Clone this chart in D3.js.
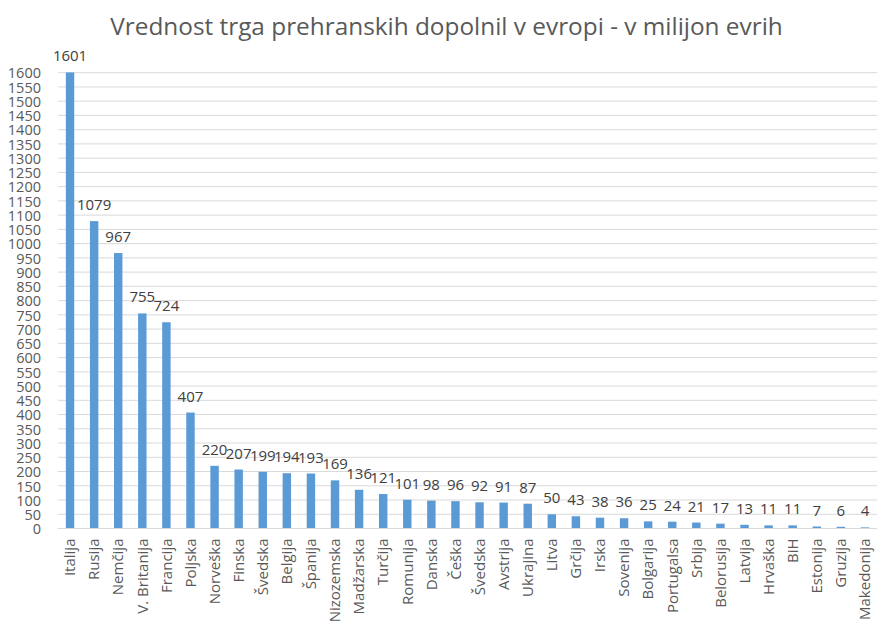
<!DOCTYPE html>
<html>
<head>
<meta charset="utf-8">
<script src="https://cdn.jsdelivr.net/npm/d3@7"></script>
<style>
  body { margin: 0; background: #fff; }
  svg { display: block; }
  text { font-family: "Open Sans", "Liberation Sans", sans-serif; }
</style>
</head>
<body>
<svg id="chart" width="893" height="635"></svg>
<script>
const title = "Vrednost trga prehranskih dopolnil v evropi - v milijon evrih";
const categories = ["Italija","Rusija","Nemčija","V. Britanija","Francija","Poljska","Norveška","Finska","Švedska","Belgija","Španija","Nizozemska","Madžarska","Turčija","Romunija","Danska","Češka","Švedska ","Avstrija","Ukrajina","Litva","Grčija","Irska","Sovenija","Bolgarija","Portugalsa","Srbija","Belorusija","Latvija","Hrvaška","BiH","Estonija","Gruzija","Makedonija"];
const values = [1601,1079,967,755,724,407,220,207,199,194,193,169,136,121,101,98,96,92,91,87,50,43,38,36,25,24,21,17,13,11,11,7,6,4];
const yTicks = d3.range(0, 1601, 50);

const svg = d3.select("#chart");
const plotLeft = 58, plotRight = 877, plotTop = 72.7, plotBottom = 528.5;

const x = d3.scaleBand().domain(d3.range(categories.length)).range([plotLeft, plotRight]).paddingInner(0.65).paddingOuter(0.325);
const y = d3.scaleLinear().domain([0, 1600]).range([plotBottom, plotTop]);

// gridlines
svg.append("g").selectAll("line").data(yTicks).join("line")
  .attr("x1", plotLeft).attr("x2", plotRight)
  .attr("y1", d => y(d)).attr("y2", d => y(d))
  .attr("stroke", "#d9d9d9").attr("stroke-width", 1);

// y axis labels
const yAxis = d3.axisLeft(y).tickValues(yTicks).tickFormat(d3.format("d")).tickSize(0).tickPadding(0);
const yg = svg.append("g").attr("transform", `translate(${plotLeft - 17},0)`).call(yAxis);
yg.select(".domain").remove();
yg.selectAll("text").attr("font-size", 14.5).attr("fill", "#595959")
  .attr("font-family", '"Open Sans", sans-serif').attr("dy", "0.36em");

// bars
svg.append("g").selectAll("rect").data(values).join("rect")
  .attr("x", (d, i) => x(i)).attr("width", x.bandwidth())
  .attr("y", d => y(d)).attr("height", d => plotBottom - y(d))
  .attr("fill", "#5b9bd5");

// data labels
svg.append("g").selectAll("text").data(values).join("text")
  .attr("x", (d, i) => x(i) + x.bandwidth() / 2)
  .attr("y", d => y(d) - 11)
  .attr("text-anchor", "middle")
  .attr("font-size", 15).attr("fill", "#404040")
  .text(d => d);

// x labels
const xAxis = d3.axisBottom(x).tickFormat(i => categories[i]).tickSize(0).tickPadding(0);
const xg = svg.append("g").attr("transform", `translate(0,${plotBottom})`).call(xAxis);
xg.select(".domain").remove();
xg.selectAll("text")
  .attr("font-size", 15).attr("fill", "#595959")
  .attr("font-family", '"Open Sans", sans-serif')
  .attr("text-anchor", "end")
  .attr("transform", "rotate(-90)")
  .attr("x", -10).attr("y", 0).attr("dy", "0.35em");

// axis baseline
svg.append("line").attr("x1", plotLeft).attr("x2", plotRight)
  .attr("y1", plotBottom).attr("y2", plotBottom).attr("stroke", "#d9d9d9");

// title
const t = svg.append("text").attr("x", 446.5).attr("y", 35)
  .attr("text-anchor", "middle").attr("font-size", 24).attr("fill", "#595959")
  .text(title);
const w = t.node().getComputedTextLength();
t.attr("font-size", 24 * 673 / w);
</script>
</body>
</html>
